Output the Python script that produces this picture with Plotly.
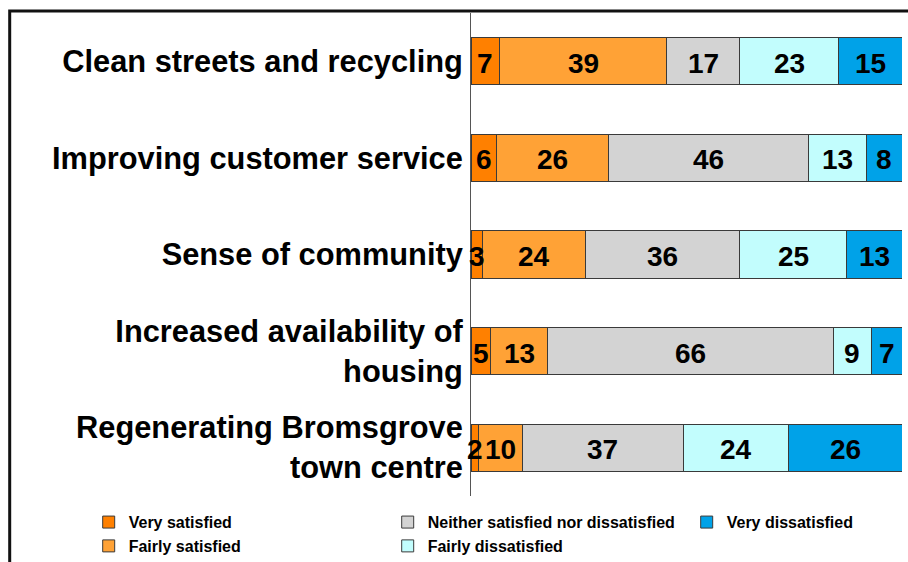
import plotly.graph_objects as go

categories = [
    "Clean streets and recycling",
    "Improving customer service",
    "Sense of community",
    "Increased availability of<br>housing",
    "Regenerating Bromsgrove<br>town centre",
]

series_names = [
    "Very satisfied",
    "Fairly satisfied",
    "Neither satisfied nor dissatisfied",
    "Fairly dissatisfied",
    "Very dissatisfied",
]

very_satisfied = [6.7, 5.8, 2.6, 4.6, 1.7]
fairly_satisfied = [38.7, 26.2, 23.9, 13.1, 10.2]
neither = [17.0, 46.4, 35.9, 66.3, 37.4]
fairly_dissatisfied = [22.8, 13.3, 24.8, 9.0, 24.4]
very_dissatisfied = [14.8, 8.3, 12.8, 7.0, 26.3]

series_values = [very_satisfied, fairly_satisfied, neither, fairly_dissatisfied, very_dissatisfied]
colors = ["#FF8000", "#FFA236", "#D3D3D3", "#C2FDFD", "#00A2E8"]
legend_ranks = [1, 4, 2, 5, 3]

FONT = "Arial, Liberation Sans, sans-serif"

fig = go.Figure()
for name, vals, col, rank in zip(series_names, series_values, colors, legend_ranks):
    fig.add_trace(go.Bar(
        y=categories,
        x=vals,
        name=name,
        orientation="h",
        marker=dict(color=col, line=dict(color="#3a3a3a", width=1)),
        legendrank=rank,
        hoverinfo="skip",
    ))

# value labels drawn on top of all bars (centred on each segment)
for i, cat in enumerate(categories):
    base = 0.0
    for vals in series_values:
        v = vals[i]
        fig.add_annotation(
            x=base + v / 2, y=cat, xref="x", yref="y",
            text=f"{v:.0f}", showarrow=False,
            xanchor="center", yanchor="middle", yshift=-2,
            font=dict(family=FONT, size=28, color="black", weight="bold"),
        )
        base += v

fig.update_layout(
    barmode="stack",
    bargap=0.51,
    width=908,
    height=562,
    margin=dict(l=471, r=6, t=13, b=66, autoexpand=False),
    paper_bgcolor="white",
    plot_bgcolor="white",
    showlegend=True,
    legend=dict(
        orientation="h",
        x=-0.887,
        xanchor="left",
        y=-0.019,
        yanchor="top",
        entrywidth=254,
        font=dict(family=FONT, size=16, color="black", weight="bold"),
        traceorder="normal",
        bgcolor="rgba(0,0,0,0)",
    ),
    xaxis=dict(
        range=[0, 100],
        visible=False,
        showgrid=False,
        zeroline=False,
    ),
    yaxis=dict(
        autorange="reversed",
        showline=True,
        linecolor="#555555",
        linewidth=1,
        ticks="",
        showgrid=False,
        ticklabelstandoff=1,
        tickfont=dict(family=FONT, size=30.8, color="black", weight="bold"),
    ),
    shapes=[
        dict(type="rect", xref="paper", yref="paper",
             x0=-1.0703, x1=1.2, y0=-0.3, y1=1.0041,
             line=dict(color="#111111", width=3), fillcolor="rgba(0,0,0,0)",
             layer="above"),
    ],
)

fig.write_html(
    "out.html",
    config={"displayModeBar": False},
    post_script="document.body.style.margin='0';document.body.style.padding='0';",
)
